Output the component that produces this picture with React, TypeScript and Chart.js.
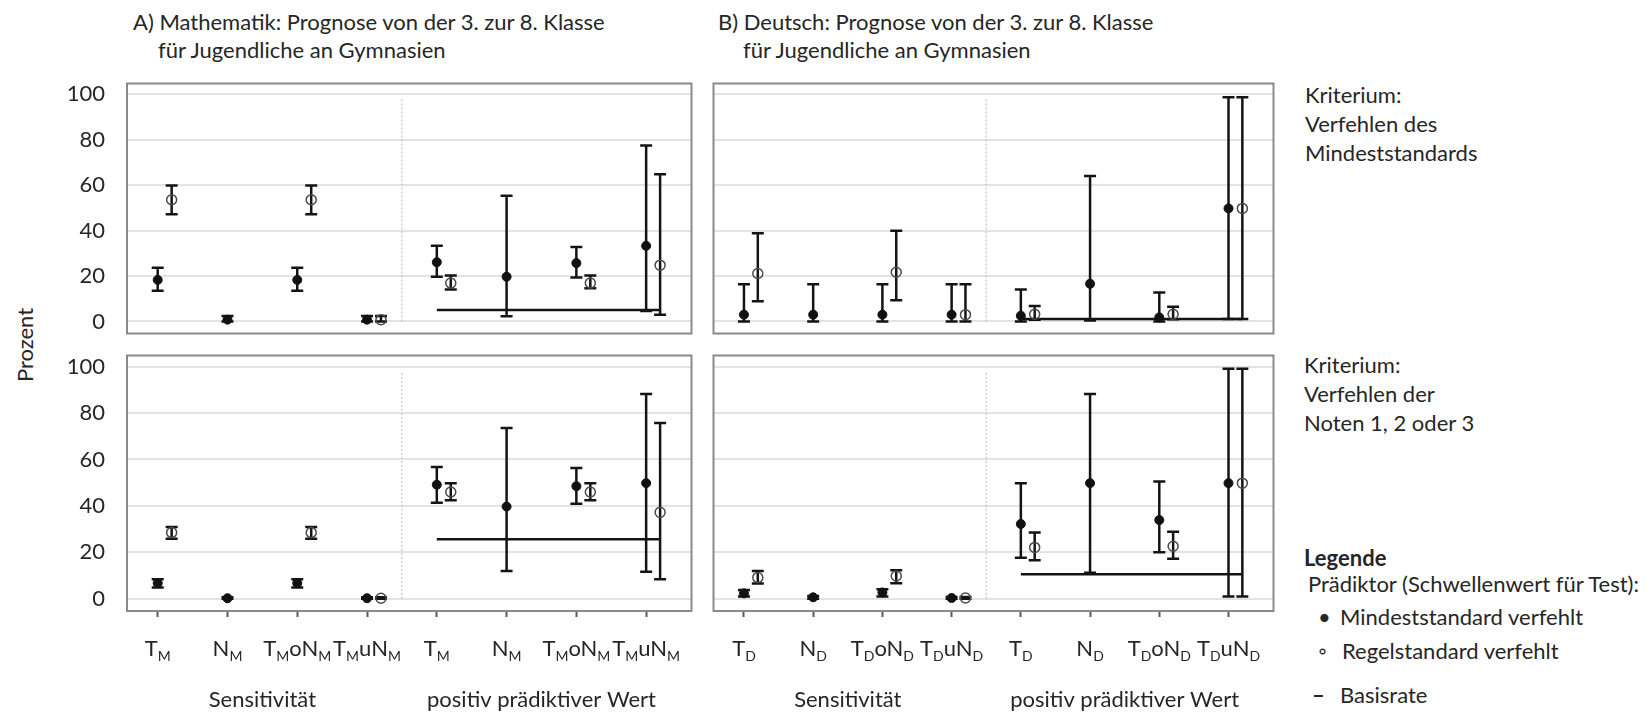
import React, { useEffect, useRef } from 'react';
import { Chart, registerables } from 'chart.js';

Chart.register(...registerables);

const FONT = 'Lato, "Open Sans", "DejaVu Sans", sans-serif';
const INK = '#262626';
const TEXT_SIZE = 22;

// Category labels: "_" turns the following letter into a subscript
const mathCategories = ['T_M', 'N_M', 'T_MoN_M', 'T_MuN_M', 'T_M', 'N_M', 'T_MoN_M', 'T_MuN_M'];
const deutschCategories = ['T_D', 'N_D', 'T_DoN_D', 'T_DuN_D', 'T_D', 'N_D', 'T_DoN_D', 'T_DuN_D'];
const categoryPositions = [1, 2, 3, 4, 5, 6, 7, 8];
const sectionLabels = ['Sensitivität', 'positiv prädiktiver Wert'];
const sectionCenters = [2.5, 6.5];
const yTickValues = [0, 20, 40, 60, 80, 100];

// A) Mathematik – Kriterium: Verfehlen des Mindeststandards
const mathMinFilled = [18.3, 0.8, 18.3, 0.8, 26.1, 19.7, 25.7, 33.3];
const mathMinFilledLo = [13.5, 0, 13.5, 0, 19.7, 2.3, 19.4, 4.6];
const mathMinFilledHi = [23.7, 2.4, 23.7, 2.4, 33.3, 55.4, 32.8, 77.5];
const mathMinOpen = [53.6, null, 53.6, 0.8, 16.9, null, 16.9, 24.8];
const mathMinOpenLo = [47.2, null, 47.2, 0, 14.1, null, 14.6, 3.0];
const mathMinOpenHi = [59.9, null, 59.9, 2.4, 20.2, null, 20.2, 64.8];
const mathMinBase = 5.1;

// B) Deutsch – Kriterium: Verfehlen des Mindeststandards
const deMinFilled = [3.0, 3.0, 3.0, 3.0, 2.5, 16.6, 1.8, 49.8];
const deMinFilledLo = [0, 0, 0, 0, 0, 0.4, 0, 1.1];
const deMinFilledHi = [16.4, 16.4, 16.4, 16.4, 14.1, 64.1, 12.8, 98.7];
const deMinOpen = [21.1, null, 21.7, 3.0, 3.2, null, 3.2, 49.8];
const deMinOpenLo = [8.9, null, 9.3, 0, 0.8, null, 1.0, 1.1];
const deMinOpenHi = [38.8, null, 39.9, 16.4, 6.8, null, 6.5, 98.7];
const deMinBase = 1.1;

// A) Mathematik – Kriterium: Verfehlen der Noten 1, 2 oder 3
const mathGradeFilled = [6.7, 0.2, 6.7, 0.2, 49.1, 39.7, 48.5, 49.8];
const mathGradeFilledLo = [4.8, 0, 4.8, 0, 41.4, 11.9, 40.9, 11.6];
const mathGradeFilledHi = [8.4, 0.6, 8.4, 0.6, 56.7, 73.6, 56.3, 88.2];
const mathGradeOpen = [28.5, null, 28.5, 0.2, 46.0, null, 46.0, 37.2];
const mathGradeOpenLo = [25.8, null, 25.8, 0, 42.4, null, 42.4, 8.4];
const mathGradeOpenHi = [30.9, null, 30.9, 0.6, 49.8, null, 49.8, 75.7];
const mathGradeBase = 25.6;

// B) Deutsch – Kriterium: Verfehlen der Noten 1, 2 oder 3
const deGradeFilled = [2.3, 0.6, 2.7, 0.3, 32.2, 49.8, 33.9, 49.8];
const deGradeFilledLo = [0.9, 0, 1.0, 0, 17.6, 11.2, 20.0, 0.9];
const deGradeFilledHi = [3.7, 1.2, 4.1, 0.7, 49.8, 88.2, 50.5, 99.1];
const deGradeOpen = [9.1, null, 9.8, 0.3, 22.1, null, 22.6, 49.8];
const deGradeOpenLo = [6.5, null, 6.7, 0, 16.6, null, 17.2, 0.9];
const deGradeOpenHi = [11.9, null, 12.3, 0.7, 28.5, null, 28.9, 99.1];
const deGradeBase = 10.5;

type Series = { v: (number | null)[]; lo: (number | null)[]; hi: (number | null)[] };

type PanelSpec = {
  key: string;
  categories: string[];
  filled: Series;
  open: Series;
  base: number;
  left: number;
  top: number;
  width: number;
  height: number;
  yAxisWidth: number;
  xAxisHeight: number;
  showYLabels: boolean;
  showXLabels: boolean;
};

const PANEL_W = 569;
const TOP_H = 259;
const BOTTOM_H = 260;
const BOTTOM_AXIS_H = 102;

const PANELS: PanelSpec[] = [
  {
    key: 'math-min', categories: mathCategories, base: mathMinBase,
    filled: { v: mathMinFilled, lo: mathMinFilledLo, hi: mathMinFilledHi },
    open: { v: mathMinOpen, lo: mathMinOpenLo, hi: mathMinOpenHi },
    left: 40, top: 77, width: 87 + PANEL_W + 2, height: 2 + TOP_H + 2,
    yAxisWidth: 87, xAxisHeight: 2, showYLabels: true, showXLabels: false,
  },
  {
    key: 'de-min', categories: deutschCategories, base: deMinBase,
    filled: { v: deMinFilled, lo: deMinFilledLo, hi: deMinFilledHi },
    open: { v: deMinOpen, lo: deMinOpenLo, hi: deMinOpenHi },
    left: 707, top: 77, width: 2 + PANEL_W + 2, height: 2 + TOP_H + 2,
    yAxisWidth: 2, xAxisHeight: 2, showYLabels: false, showXLabels: false,
  },
  {
    key: 'math-grade', categories: mathCategories, base: mathGradeBase,
    filled: { v: mathGradeFilled, lo: mathGradeFilledLo, hi: mathGradeFilledHi },
    open: { v: mathGradeOpen, lo: mathGradeOpenLo, hi: mathGradeOpenHi },
    left: 40, top: 349, width: 87 + PANEL_W + 2, height: 2 + BOTTOM_H + BOTTOM_AXIS_H,
    yAxisWidth: 87, xAxisHeight: BOTTOM_AXIS_H, showYLabels: true, showXLabels: true,
  },
  {
    key: 'de-grade', categories: deutschCategories, base: deGradeBase,
    filled: { v: deGradeFilled, lo: deGradeFilledLo, hi: deGradeFilledHi },
    open: { v: deGradeOpen, lo: deGradeOpenLo, hi: deGradeOpenHi },
    left: 707, top: 349, width: 2 + PANEL_W + 2, height: 2 + BOTTOM_H + BOTTOM_AXIS_H,
    yAxisWidth: 2, xAxisHeight: BOTTOM_AXIS_H, showYLabels: false, showXLabels: true,
  },
];

// point objects carry their own confidence interval
function toPoints(s: Series, shift: number) {
  const out: { x: number; y: number; lo: number; hi: number }[] = [];
  s.v.forEach((val, i) => {
    if (val === null) return;
    out.push({ x: categoryPositions[i] + shift, y: val, lo: s.lo[i] as number, hi: s.hi[i] as number });
  });
  return out;
}

// vertical whiskers with end caps, drawn beneath the markers
const errorBarPlugin = {
  id: 'errorBars',
  beforeDatasetsDraw(chart: any) {
    const { ctx } = chart;
    const xs = chart.scales.x;
    const ys = chart.scales.y;
    chart.data.datasets.forEach((ds: any) => {
      if (!ds.errorBars) return;
      ds.data.forEach((p: any) => {
        const px = xs.getPixelForValue(p.x);
        const yLo = ys.getPixelForValue(p.lo);
        const yHi = ys.getPixelForValue(p.hi);
        const cap = 6;
        ctx.save();
        ctx.strokeStyle = '#141414';
        ctx.lineWidth = 2.5;
        ctx.beginPath();
        ctx.moveTo(px, yLo);
        ctx.lineTo(px, yHi);
        ctx.moveTo(px - cap, yLo);
        ctx.lineTo(px + cap, yLo);
        ctx.moveTo(px - cap, yHi);
        ctx.lineTo(px + cap, yHi);
        ctx.stroke();
        ctx.restore();
      });
    });
  },
};

// grey frame around each panel
const framePlugin = {
  id: 'panelFrame',
  afterDraw(chart: any) {
    const { ctx, chartArea: a } = chart;
    ctx.save();
    ctx.strokeStyle = '#8a8a8a';
    ctx.lineWidth = 2;
    ctx.strokeRect(a.left, a.top, a.right - a.left, a.bottom - a.top);
    ctx.restore();
  },
};

function drawRichLabel(ctx: CanvasRenderingContext2D, label: string, cx: number, baseline: number) {
  const segs: { t: string; sub: boolean }[] = [];
  for (let i = 0; i < label.length; i++) {
    if (label[i] === '_' && i + 1 < label.length) {
      segs.push({ t: label[i + 1], sub: true });
      i++;
    } else {
      const last = segs[segs.length - 1];
      if (last && !last.sub) last.t += label[i];
      else segs.push({ t: label[i], sub: false });
    }
  }
  const mainFont = `${TEXT_SIZE}px ${FONT}`;
  const subFont = `14px ${FONT}`;
  let total = 0;
  const widths = segs.map((s) => {
    ctx.font = s.sub ? subFont : mainFont;
    const w = ctx.measureText(s.t).width;
    total += w;
    return w;
  });
  let x = cx - total / 2;
  ctx.textAlign = 'left';
  segs.forEach((s, i) => {
    ctx.font = s.sub ? subFont : mainFont;
    ctx.fillText(s.t, x, s.sub ? baseline + 5 : baseline);
    x += widths[i];
  });
}

// category names with subscripts and the two section headings under the x axis
const categoryLabelPlugin = {
  id: 'categoryLabels',
  afterDraw(chart: any, _args: any, opts: any) {
    if (!opts || !opts.labels) return;
    const { ctx, chartArea } = chart;
    const xs = chart.scales.x;
    ctx.save();
    ctx.fillStyle = INK;
    ctx.textBaseline = 'alphabetic';
    opts.labels.forEach((lab: string, i: number) => {
      drawRichLabel(ctx, lab, xs.getPixelForValue(categoryPositions[i]), chartArea.bottom + 45);
    });
    ctx.font = `${TEXT_SIZE}px ${FONT}`;
    ctx.textAlign = 'center';
    sectionLabels.forEach((s, i) => {
      ctx.fillText(s, xs.getPixelForValue(sectionCenters[i]), chartArea.bottom + 96);
    });
    ctx.restore();
  },
};

function buildConfig(p: PanelSpec): any {
  return {
    type: 'scatter',
    data: {
      datasets: [
        {
          label: 'Mindeststandard verfehlt',
          data: toPoints(p.filled, 0),
          errorBars: true,
          pointRadius: 4.5,
          pointBackgroundColor: '#111111',
          pointBorderColor: '#111111',
          pointBorderWidth: 1,
        },
        {
          label: 'Regelstandard verfehlt',
          data: toPoints(p.open, 0.2),
          errorBars: true,
          pointRadius: 5,
          pointBackgroundColor: 'rgba(255,255,255,0)',
          pointBorderColor: '#4a4a4a',
          pointBorderWidth: 1.5,
        },
        {
          label: 'Basisrate',
          data: [{ x: 5, y: p.base }, { x: 8.2, y: p.base }],
          showLine: true,
          borderColor: '#141414',
          borderWidth: 2.5,
          pointRadius: 0,
        },
        {
          label: 'Trennlinie',
          data: [{ x: 4.5, y: 0 }, { x: 4.5, y: 98 }],
          showLine: true,
          borderColor: '#c2c2c2',
          borderWidth: 1.2,
          borderDash: [2, 2],
          pointRadius: 0,
        },
      ],
    },
    options: {
      responsive: false,
      animation: false,
      devicePixelRatio: 1,
      events: [],
      layout: { padding: { top: 2, right: 2, left: 0, bottom: 0 } },
      plugins: {
        legend: { display: false },
        tooltip: { enabled: false },
        categoryLabels: { labels: p.showXLabels ? p.categories : null },
      },
      scales: {
        x: {
          type: 'linear',
          min: 0.56,
          max: 8.65,
          afterBuildTicks: (s: any) => {
            s.ticks = categoryPositions.map((v) => ({ value: v }));
          },
          afterFit: (s: any) => {
            s.height = p.xAxisHeight;
            s.paddingLeft = 0;
            s.paddingRight = 0;
            s.paddingTop = 0;
            s.paddingBottom = 0;
          },
          border: { display: false },
          grid: {
            display: p.showXLabels,
            drawOnChartArea: false,
            drawTicks: true,
            tickLength: 6,
            tickWidth: 2,
            tickColor: '#5a5a5a',
          },
          ticks: { display: false },
        },
        y: {
          type: 'linear',
          min: -5.3,
          max: 104.8,
          afterBuildTicks: (s: any) => {
            s.ticks = yTickValues.map((v) => ({ value: v }));
          },
          afterFit: (s: any) => {
            s.width = p.yAxisWidth;
            s.paddingLeft = 0;
            s.paddingRight = 0;
            s.paddingTop = 0;
            s.paddingBottom = 0;
          },
          border: { display: false },
          grid: { color: '#e3e3e3', lineWidth: 2, drawTicks: false },
          ticks: {
            display: p.showYLabels,
            padding: 22,
            color: INK,
            font: { family: FONT, size: TEXT_SIZE },
          },
        },
      },
    },
    plugins: [errorBarPlugin, framePlugin, categoryLabelPlugin],
  };
}

function Label(props: { x: number; y: number; text: string; bold?: boolean }) {
  return (
    <div
      style={{
        position: 'absolute',
        left: props.x,
        top: props.y,
        transform: 'translateY(-50%)',
        whiteSpace: 'nowrap',
        lineHeight: 1,
        fontSize: TEXT_SIZE,
        fontWeight: props.bold ? 700 : 400,
      }}
    >
      {props.text}
    </div>
  );
}

export default function App() {
  const r0 = useRef<HTMLCanvasElement>(null);
  const r1 = useRef<HTMLCanvasElement>(null);
  const r2 = useRef<HTMLCanvasElement>(null);
  const r3 = useRef<HTMLCanvasElement>(null);
  const refs = [r0, r1, r2, r3];

  useEffect(() => {
    const charts = PANELS.map((p, i) => new Chart(refs[i].current as HTMLCanvasElement, buildConfig(p)));
    return () => charts.forEach((c) => c.destroy());
  }, []);

  return (
    <div
      style={{
        position: 'fixed', left: 0, top: 0, width: 1650, height: 713,
        background: '#ffffff', fontFamily: FONT, color: INK, overflow: 'hidden',
      }}
    >
      {PANELS.map((p, i) => (
        <canvas
          key={p.key}
          ref={refs[i]}
          width={p.width}
          height={p.height}
          style={{ position: 'absolute', left: p.left, top: p.top, width: p.width, height: p.height }}
        />
      ))}

      <Label x={133} y={22} text="A) Mathematik: Prognose von der 3. zur 8. Klasse" />
      <Label x={158} y={50} text="für Jugendliche an Gymnasien" />
      <Label x={718} y={22} text="B) Deutsch: Prognose von der 3. zur 8. Klasse" />
      <Label x={743} y={50} text="für Jugendliche an Gymnasien" />

      <div
        style={{
          position: 'absolute', left: 25, top: 345, fontSize: TEXT_SIZE, lineHeight: 1, whiteSpace: 'nowrap',
          transform: 'translate(-50%, -50%) rotate(-90deg)',
        }}
      >
        Prozent
      </div>

      <Label x={1305} y={95} text="Kriterium:" />
      <Label x={1305} y={124} text="Verfehlen des" />
      <Label x={1305} y={153} text="Mindeststandards" />
      <Label x={1304} y={365} text="Kriterium:" />
      <Label x={1304} y={394} text="Verfehlen der" />
      <Label x={1304} y={423} text="Noten 1, 2 oder 3" />

      <Label x={1304} y={558} text="Legende" bold />
      <Label x={1308} y={584} text="Prädiktor (Schwellenwert für Test):" />
      <Label x={1318} y={617} text="•" />
      <Label x={1340} y={617} text="Mindeststandard verfehlt" />
      <Label x={1318} y={651} text="◦" />
      <Label x={1342} y={651} text="Regelstandard verfehlt" />
      <Label x={1312} y={695} text="–" bold />
      <Label x={1340} y={695} text="Basisrate" />
    </div>
  );
}
